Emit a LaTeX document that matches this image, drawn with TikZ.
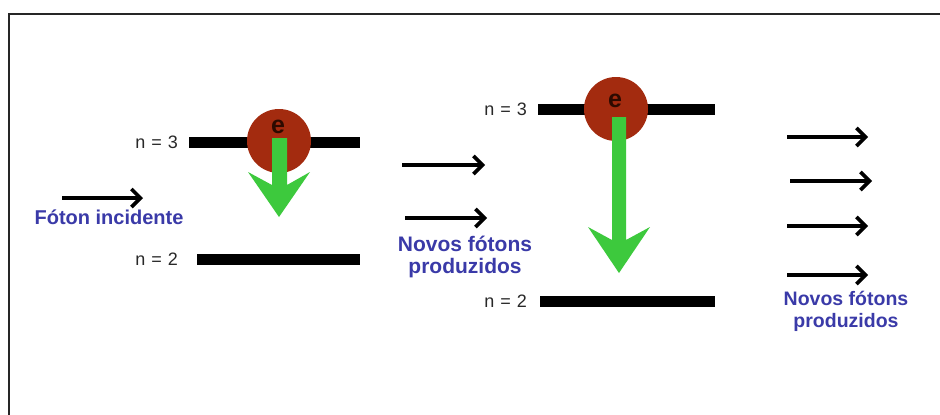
\documentclass[tikz,border=0pt]{standalone}
\usepackage{fontspec}
\setmainfont{Liberation Sans}
\usetikzlibrary{arrows.meta}

\definecolor{electron}{RGB}{163,43,15}
\definecolor{emission}{RGB}{61,201,61}
\definecolor{labelblue}{RGB}{58,58,168}
\definecolor{levelgray}{RGB}{40,40,40}

\tikzset{
  level/.style={line width=11pt, black},
  photon/.style={line width=3.6pt,
    -{Straight Barb[length=9pt, width=18pt, line width=3.6pt]}},
  levellabel/.style={inner sep=0pt, anchor=east, text=levelgray,
    font=\fontsize{18}{20}\selectfont},
  bluelabel/.style={inner sep=0pt, text=labelblue, align=center,
    font=\bfseries\fontsize{#1}{22}\selectfont},
  eletter/.style={inner sep=0pt, anchor=base, text={rgb,255:red,45;green,10;blue,0},
    font=\bfseries\fontsize{25}{28}\selectfont},
  electronball/.style={circle, fill=electron, minimum size=64pt, inner sep=0pt},
  emitarrow/.style={fill=emission}
}

\begin{document}
\begin{tikzpicture}[x=1pt, y=-1pt]
\useasboundingbox (0,0) rectangle (940,415);
\fill[white] (0,0) rectangle (940,415);

% frame
\draw[line width=1.6pt, black!85] (9,415) -- (9,14) -- (940,14);

% ---- first atom: energy levels ----
\draw[level] (189,142) -- (360,142);
\draw[level] (197,259) -- (360,259);
\node[levellabel] (la3) at (178,142) {n\hspace{6pt}=\hspace{6pt}3};
\node[levellabel] (la2) at (178,259) {n\hspace{6pt}=\hspace{6pt}2};

% electron and its downward transition
\node[electronball] (ea) at (279,141) {};
\fill[emitarrow] (272,138) -- (287,138) -- (287,185) -- (310,172)
  -- (279,217) -- (248,172) -- (272,185) -- cycle;
\node[eletter] (eA) at (278,133) {e};

% incident photon
\coordinate (inA) at (62,198);
\coordinate (inB) at (143,198);
\draw[photon] (inA) -- (inB);
\node[bluelabel=20, anchor=base] (inc) at (109,224) {Fóton incidente};

% photons after the first emission
\coordinate (mA1) at (402,165);
\coordinate (mB1) at (485,165);
\coordinate (mA2) at (405,218);
\coordinate (mB2) at (487,218);
\draw[photon] (mA1) -- (mB1);
\draw[photon] (mA2) -- (mB2);
\node[bluelabel=21] (mid) at (465,257) {Novos fótons\\produzidos};

% ---- second atom: energy levels ----
\draw[level] (538,109) -- (715,109);
\draw[level] (540,301) -- (715,301);
\node[levellabel] (lb3) at (527,109) {n\hspace{6pt}=\hspace{6pt}3};
\node[levellabel] (lb2) at (527,301) {n\hspace{6pt}=\hspace{6pt}2};

\node[electronball] (eb) at (616,109) {};
\fill[emitarrow] (612,117) -- (626,117) -- (626,240) -- (650,227)
  -- (619,273) -- (588,227) -- (612,240) -- cycle;
\node[eletter] (eB) at (615,107) {e};

% photons after the second emission
\coordinate (rA1) at (787,137);
\coordinate (rB1) at (868,137);
\coordinate (rA2) at (790,181);
\coordinate (rB2) at (872,181);
\coordinate (rA3) at (787,226);
\coordinate (rB3) at (868,226);
\coordinate (rA4) at (787,275);
\coordinate (rB4) at (868,275);
\draw[photon] (rA1) -- (rB1);
\draw[photon] (rA2) -- (rB2);
\draw[photon] (rA3) -- (rB3);
\draw[photon] (rA4) -- (rB4);
\node[bluelabel=19.5] (right) at (846,311) {Novos fótons\\produzidos};
\end{tikzpicture}
\end{document}
